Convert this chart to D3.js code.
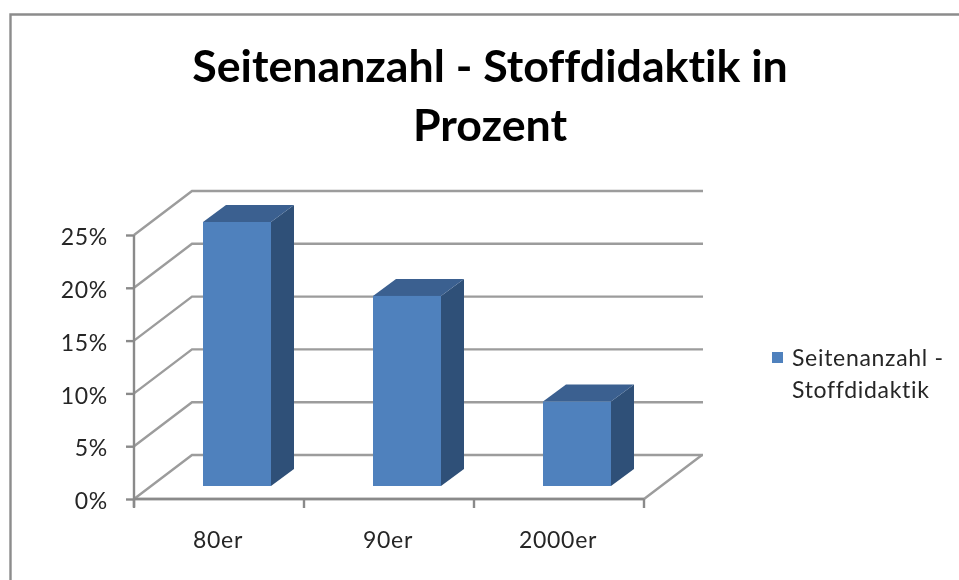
<!DOCTYPE html>
<html><head><meta charset="utf-8">
<script src="https://cdn.jsdelivr.net/npm/d3@7"></script>
<style>html,body{margin:0;padding:0;background:#fff;overflow:hidden}svg{display:block;filter:blur(.45px)}text{font-family:Lato,sans-serif;font-variant-ligatures:none}</style>
</head><body><svg id="c" width="959" height="580"></svg>
<script>
const categories = ["80er","90er","2000er"];
const seriesName = ["Seitenanzahl -","Stoffdidaktik"];
const seriesValues = [25,18,8];
const yTicks = [0,5,10,15,20,25];
const titleLines = ["Seitenanzahl - Stoffdidaktik in","Prozent"];

const svg = d3.select("#c");
const grid="#9c9c9c", tickCol="#8a8a8a", txt="#262626";
const depthX=58, depthY=-44;
const barDX=23, barDY=-17, shiftX=18, shiftY=-13;
const y=d3.scaleLinear().domain([0,25]).range([499,235]);
const x=d3.scaleBand().domain(categories).range([134,644]).paddingInner(0).paddingOuter(0);
const barW=68;
const labelSize=23, labelSpacing=0.7;

// outer frame
svg.append("path").attr("d","M959,14.5H10.5V580").attr("fill","none").attr("stroke","#8c8c8c").attr("stroke-width",2.4);

// title
svg.append("g").selectAll("text").data(titleLines).join("text")
 .attr("x",490).attr("y",(d,i)=>82+i*59).attr("text-anchor","middle")
 .attr("font-size",44.7).attr("font-weight",700).attr("fill","#000").text(d=>d);

// back wall + side wall gridlines
const g=svg.append("g").attr("fill","none").attr("stroke",grid).attr("stroke-width",2.4);
yTicks.forEach(t=>{
  const y0=y(t);
  g.append("path").attr("d",`M134,${y0}L${134+depthX},${y0+depthY}H${645+depthX}`);
});
g.append("path").attr("d",`M134,499H644L${644+depthX},${499+depthY}`);

// axes
const yAxis=d3.axisLeft(y).tickValues(yTicks).tickSize(8).tickPadding(18).tickFormat(d=>d+"%");
const ya=svg.append("g").attr("transform","translate(134,0)").call(yAxis);
const xAxis=d3.axisBottom(x).tickSize(0).tickPadding(33);
const xa=svg.append("g").attr("transform","translate(0,499)").call(xAxis);
[ya,xa].forEach(a=>{a.select(".domain").attr("stroke",tickCol).attr("stroke-width",2.4);
 a.selectAll("text").attr("font-size",labelSize).attr("letter-spacing",labelSpacing).attr("font-family","Lato,sans-serif").attr("fill",txt);
 a.selectAll("line").attr("stroke",tickCol).attr("stroke-width",2.4);});
ya.select(".domain").attr("d","M0,235V507");
xa.select(".domain").attr("d","M134,0H644");
ya.selectAll(".tick text").attr("dy","0.42em");
xa.selectAll(".tick text").attr("dx",-1);
xa.selectAll(null).data(d3.range(categories.length+1)).join("line")
  .attr("x1",i=>134+i*x.step()).attr("x2",i=>134+i*x.step()).attr("y1",0).attr("y2",9)
  .attr("stroke",tickCol).attr("stroke-width",2.4);

// bars
const bars=svg.append("g").selectAll("g").data(seriesValues).join("g")
 .attr("transform",(d,i)=>`translate(${x(categories[i])+x.step()/2-barW/2+shiftX},${shiftY})`);
bars.append("path").attr("fill","#2f5078").attr("d",d=>`M${barW},${y(d)}l${barDX},${barDY}V${y(0)+barDY}l${-barDX},${-barDY}Z`);
bars.append("path").attr("fill","#3b6090").attr("d",d=>`M0,${y(d)}l${barDX},${barDY}h${barW}l${-barDX},${-barDY}Z`);
bars.append("rect").attr("fill","#4f81bd").attr("x",0).attr("width",barW).attr("y",d=>y(d)).attr("height",d=>y(0)-y(d));

// legend
svg.append("rect").attr("x",772).attr("y",352).attr("width",11).attr("height",11).attr("fill","#4f81bd");
svg.append("g").selectAll("text").data(seriesName).join("text")
 .attr("x",792).attr("y",(d,i)=>366+i*32).attr("font-size",labelSize).attr("letter-spacing",labelSpacing).attr("fill",txt).text(d=>d);
</script></body></html>
